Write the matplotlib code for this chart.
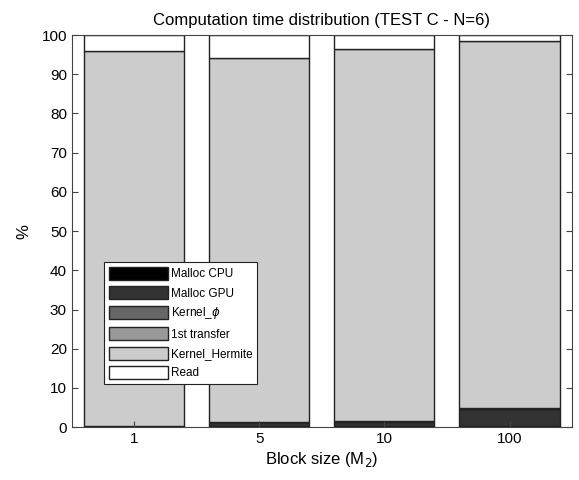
import numpy as np
import matplotlib.pyplot as plt

plt.rcParams['font.family'] = ['Liberation Sans', 'DejaVu Sans']

# block sizes (M2)
block_sizes = ["1", "5", "10", "100"]

# percentage of computation time per stage
malloc_cpu = [0.1, 0.2, 0.2, 0.3]
malloc_gpu = [0.2, 1.0, 1.2, 4.3]
kernel_phi = [0.05, 0.1, 0.1, 0.1]
first_transfer = [0.05, 0.05, 0.1, 0.1]
kernel_hermite = [95.5, 92.9, 94.8, 93.7]
read = [4.1, 5.75, 3.6, 1.5]

series = [malloc_cpu, malloc_gpu, kernel_phi, first_transfer, kernel_hermite, read]
labels = ["Malloc CPU", "Malloc GPU", r"Kernel_$\phi$", "1st transfer", "Kernel_Hermite", "Read"]
colors = ["#000000", "#333333", "#666666", "#999999", "#cccccc", "#ffffff"]

fig = plt.figure(figsize=(5.79, 4.8), dpi=100)
ax = fig.add_axes([0.124, 0.110, 0.864, 0.817])

x = np.arange(1, len(block_sizes) + 1)
bottom = np.zeros(len(block_sizes))
for vals, lab, col in zip(series, labels, colors):
    ax.bar(x, vals, width=0.8, bottom=bottom, color=col, edgecolor="#222222",
           linewidth=1.0, label=lab)
    bottom += np.array(vals)

ax.set_xlim(0.5, 4.5)
ax.set_ylim(0, 100)
ax.set_xticks(x)
ax.set_xticklabels(block_sizes)
ax.set_yticks(np.arange(0, 101, 10))
ax.tick_params(direction="in", top=False, right=True, labelsize=11, length=4,
               color="#444444")
for s in ax.spines.values():
    s.set_color("#444444")

ax.set_title("Computation time distribution (TEST C - N=6)", fontsize=12, pad=7)
ax.set_xlabel("Block size (M$_2$)", fontsize=12, labelpad=3)
ax.set_ylabel("%", fontsize=12, labelpad=7)

leg = ax.legend(loc="lower left", bbox_to_anchor=(0.064, 0.11), fontsize=8.5,
                frameon=True, fancybox=False, edgecolor="#222222", framealpha=1,
                handlelength=5.0, handleheight=1.3, handletextpad=0.25,
                labelspacing=0.5, borderpad=0.4, borderaxespad=0)
leg.get_frame().set_linewidth(0.8)

plt.savefig("out.png", dpi=100)
plt.close()
